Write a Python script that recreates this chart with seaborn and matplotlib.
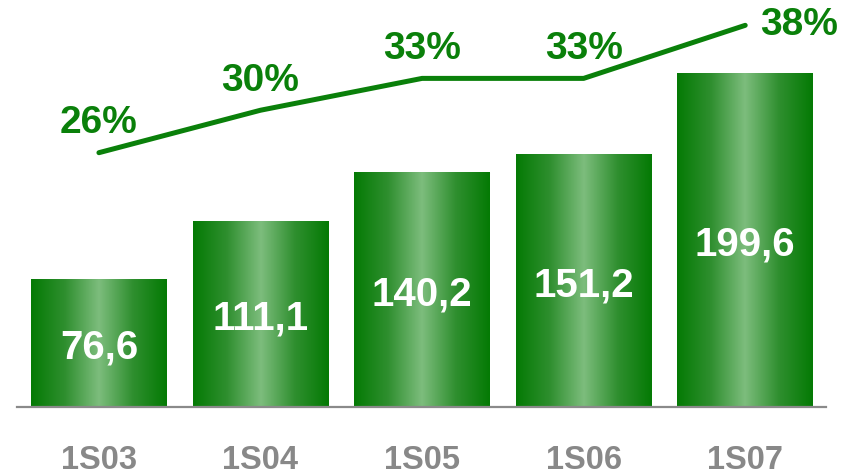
import numpy as np
import pandas as pd
import matplotlib
matplotlib.use('Agg')
import matplotlib.pyplot as plt
import seaborn as sns
from matplotlib import font_manager as fm
from matplotlib.colors import LinearSegmentedColormap

# Data
periods = ['1S03', '1S04', '1S05', '1S06', '1S07']
values = [76.6, 111.1, 140.2, 151.2, 199.6]
margins = [26, 30, 33, 33, 38]

sns.set_theme(style='white')
plt.rcParams['font.family'] = ['Liberation Sans', 'DejaVu Sans']

# pick the regular-width bold Liberation Sans file (not the Narrow one)
bold_file = None
for f in fm.findSystemFonts():
    if f.endswith('LiberationSans-Bold.ttf'):
        bold_file = f
        break
if bold_file:
    fm.fontManager.addfont(bold_file)
    bold = fm.FontProperties(fname=bold_file)
else:
    bold = fm.FontProperties(family='DejaVu Sans', weight='bold')

fig = plt.figure(figsize=(8.45, 4.77), dpi=100)
ax = fig.add_axes([17 / 845, 69 / 477, 809 / 845, 408 / 477])

df = pd.DataFrame({'period': periods, 'value': values})
sns.barplot(data=df, x='period', y='value', color='#0a800a', width=0.84, ax=ax)

# horizontal gradient on the bars (dark edges, light middle)
green_grad = LinearSegmentedColormap.from_list(
    'green_grad', ['#047a04', '#2f8f2f', '#7dbd7d', '#2f8f2f', '#047a04'])
grad = np.linspace(0, 1, 256).reshape(1, -1)
for p in ax.patches:
    x0, y0 = p.get_x(), p.get_y()
    w, h = p.get_width(), p.get_height()
    ax.imshow(grad, cmap=green_grad, aspect='auto',
              extent=(x0, x0 + w, y0, y0 + h), zorder=p.get_zorder() + 0.1)

for i, v in enumerate(values):
    ax.text(i, v / 2 - 2, f'{v:.1f}'.replace('.', ','), ha='center', va='center',
            color='white', fontproperties=bold, fontsize=29, zorder=5)

ax.set_xlim(-0.507, 4.5)
ax.set_ylim(0, 244.2)
ax.set_xlabel('')
ax.set_ylabel('')
ax.set_yticks([])
ax.tick_params(axis='x', length=0, pad=27)
for lab in ax.get_xticklabels():
    lab.set_fontproperties(bold)
    lab.set_fontsize(23.5)
    lab.set_color('#888888')
for s in ['top', 'left', 'right']:
    ax.spines[s].set_visible(False)
ax.spines['bottom'].set_color('#8a8a8a')
ax.spines['bottom'].set_linewidth(1.6)

# margin line on a second axis
ax2 = ax.twinx()
xs = np.arange(len(periods))
sns.lineplot(x=xs, y=margins, ax=ax2, color='#0a800a', linewidth=3.6)
ax2.set_ylim(2.04, 40.48)
ax2.set_yticks([])
ax2.set_ylabel('')
for s in ax2.spines.values():
    s.set_visible(False)

for i, m in enumerate(margins):
    off = (39, 1) if i == len(margins) - 1 else (0, 22)
    ax2.annotate(f'{m}%', (xs[i], m), xytext=off, textcoords='offset points',
                 ha='center', va='center', color='#0a800a',
                 fontproperties=bold, fontsize=28)

fig.savefig('out.png', dpi=100)
